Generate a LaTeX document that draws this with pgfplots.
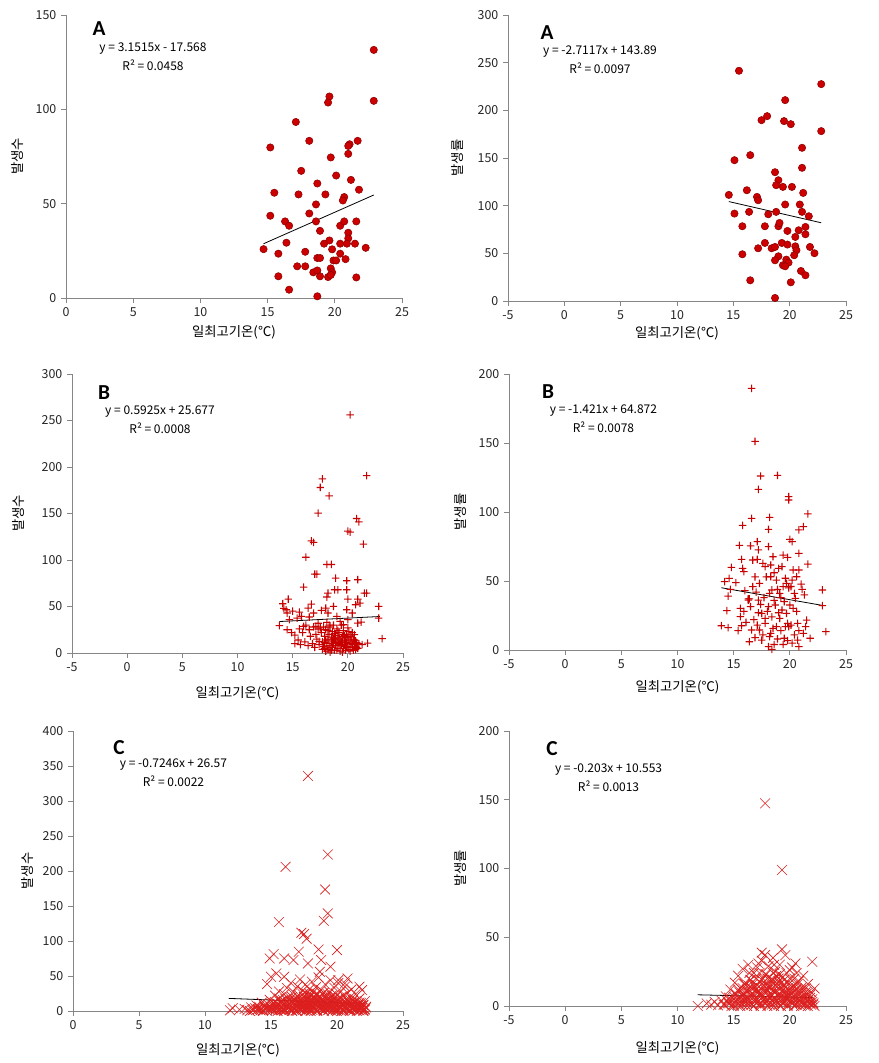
\documentclass[border=0pt]{standalone}
\usepackage{fontspec}
\usepackage{pgfplots}
\pgfplotsset{compat=1.18}
\setmainfont{Noto Sans CJK KR}
\newfontfamily\carlito{Carlito}
\definecolor{axisgray}{RGB}{134,134,134}
\definecolor{dotred}{RGB}{204,0,0}
\definecolor{dotedge}{RGB}{140,0,0}
\definecolor{plusred}{RGB}{200,0,0}
\definecolor{xred}{RGB}{220,30,30}
\pgfdeclareplotmark{fplus}{%
  \pgfpathrectangle{\pgfqpoint{-\pgfplotmarksize}{-0.4pt}}{\pgfqpoint{2\pgfplotmarksize}{0.8pt}}%
  \pgfpathrectangle{\pgfqpoint{-0.4pt}{-\pgfplotmarksize}}{\pgfqpoint{0.8pt}{2\pgfplotmarksize}}%
  \pgfusepathqfill}
\pgfplotsset{
  base/.style={anchor=south west, scale only axis, enlargelimits=false, clip=false,
    axis lines=left, axis line style={-, draw=axisgray, line width=0.6pt},
    tick align=outside, major tick length=3.75pt,
    tick style={draw=axisgray, line width=0.6pt},
    ticklabel style={font=\fontsize{9.3}{10}\selectfont, text=black!85},
    /pgf/number format/assume math mode=true,
    label style={font=\fontsize{8.6}{10}\selectfont, text=black!90},
    xlabel={일최고기온(℃)},
    every axis y label/.style={rotate=90, anchor=center},
    every axis x label/.style={anchor=center}},
  circ/.style={only marks, color=dotred, mark=*, mark size=2.75pt, mark options={fill=dotred, draw=dotedge, line width=0.4pt}},
  plusm/.style={only marks, color=plusred, mark=fplus, mark size=2.8pt, mark options={fill=plusred}},
  xm/.style={only marks, color=xred, mark=x, mark size=5.2pt, mark options={draw=xred, line width=0.45pt}},
  trend/.style={no marks, black, line width=0.6pt},
}
\newcommand{\eqfont}{\fontsize{9}{10}\selectfont}
\newcommand{\letfont}{\carlito\bfseries\fontsize{16}{18}\selectfont}
\begin{document}
\begin{tikzpicture}
\path[use as bounding box] (0,0) rectangle (658.5pt,-797.25pt);

% ---------- Panel 1 ----------
\begin{axis}[base, at={(49.5pt,-223.5pt)}, width=252pt, height=212.25pt,
  xmin=0, xmax=25, ymin=0, ymax=150, xtick={0,5,10,15,20,25}, ytick={0,50,100,150},
  ylabel={발생수},
  ylabel style={at={(axis description cs:-0.143,0.5)}},
  xlabel style={at={(axis description cs:0.5,-0.120)}}]
\addplot[circ] coordinates {
(22.9,131.5)(19.6,106.8)(19.5,103.6)(22.9,104.5)(17.1,93.3)(15.2,79.8)(18.1,83.3)(21.7,83.3)
(21.1,81.5)(21.0,80.6)(21.0,76.4)(19.7,74.5)(17.5,67.4)(20.1,64.9)(18.7,60.7)(21.2,62.6)
(15.5,55.8)(17.3,54.9)(19.3,54.9)(21.8,57.4)(20.7,53.5)(20.6,51.7)(18.6,49.6)(15.2,43.6)
(18.1,44.8)(16.3,40.6)(16.6,38.3)(18.6,40.6)(20.4,38.3)(20.7,40.6)(21.6,40.6)(18.9,35.6)
(21.0,34.6)(21.0,31.6)(19.6,30.5)(19.2,28.8)(16.4,29.3)(20.4,28.8)(20.9,28.8)(21.5,28.8)
(14.7,25.9)(19.8,25.8)(22.3,26.6)(17.8,24.5)(15.8,23.5)(20.4,23.5)(18.7,21.2)(18.9,21.2)
(19.9,19.9)(20.1,19.9)(20.8,20.6)(17.2,16.8)(17.8,16.8)(18.4,13.6)(18.7,14.6)(19.7,15.7)
(19.8,13.6)(18.9,11.5)(19.5,11.1)(19.7,12.2)(15.8,11.5)(21.6,10.9)(16.6,4.4)(18.7,0.9)
};
\addplot[trend] coordinates {(14.7,28.76)(22.9,54.6)};
\end{axis}

% ---------- Panel 2 ----------
\begin{axis}[base, at={(381pt,-225.75pt)}, width=253.5pt, height=214.5pt,
  xmin=-5, xmax=25, ymin=0, ymax=300, xtick={-5,0,5,10,15,20,25}, ytick={0,50,100,150,200,250,300},
  ylabel={발생률},
  ylabel style={at={(axis description cs:-0.148,0.5)}},
  xlabel style={at={(axis description cs:0.5,-0.112)}}]
\addplot[circ] coordinates {
(15.5,241.5)(22.8,227.5)(19.6,210.7)(17.5,189.7)(18.0,193.9)(19.5,188.7)(20.1,185.5)(22.8,178.2)
(21.1,160.7)(16.5,153.0)(15.1,147.7)(21.1,139.7)(18.7,135.1)(19.0,126.7)(18.8,121.5)(19.4,119.7)
(20.2,119.7)(16.2,116.2)(21.2,113.4)(14.6,111.3)(17.1,109.2)(17.2,105.7)(19.6,101.2)(20.9,101.2)
(21.1,93.5)(21.7,88.9)(15.1,91.7)(16.4,93.5)(18.1,91.0)(18.8,93.5)(15.8,78.4)(17.8,78.4)
(19.0,78.4)(19.1,81.9)(19.8,73.5)(20.8,74.2)(21.4,77.7)(21.4,70.0)(20.5,67.2)(20.5,57.4)
(17.8,60.9)(19.3,60.9)(19.8,59.2)(20.6,53.2)(21.8,56.7)(17.2,55.3)(18.4,55.3)(18.7,56.7)
(22.2,50.1)(15.8,49.0)(20.4,48.0)(19.0,46.9)(19.7,43.4)(18.7,42.7)(19.9,40.3)(19.4,37.5)
(19.6,36.4)(21.0,31.5)(21.4,27.0)(16.5,21.7)(20.1,19.6)(18.7,3.2)
};
\addplot[trend] coordinates {(14.6,104.3)(22.8,82.06)};
\end{axis}

% ---------- Panel 3 ----------
\begin{axis}[base, at={(54pt,-489.75pt)}, width=248.25pt, height=209.25pt,
  xmin=-5, xmax=25, ymin=0, ymax=300, xtick={-5,0,5,10,15,20,25}, ytick={0,50,100,150,200,250,300},
  ylabel={발생수},
  ylabel style={at={(axis description cs:-0.163,0.5)}},
  xlabel style={at={(axis description cs:0.5,-0.143)}}]
\addplot[plusm] coordinates {
(20.2,256)(21.7,190.8)(17.7,187.3)(17.5,178)(18.3,169)(17.3,150.4)(20.8,144.6)(21.0,141.1)
(20.0,131)(20.2,130)(21.4,117)(16.7,120.6)(16.9,118.9)(16.2,103)(17.0,84.9)(17.2,84.9)
(18.1,95.2)(18.5,95.2)(18.9,80.6)(19.9,77.7)(20.9,78.8)(16.0,70.9)(18.2,64.4)(18.8,68)
(19.1,68)(19.9,68)(21.5,64.4)(21.7,64.4)(20.0,58)(20.9,58)(18.1,60.2)(22.8,50.1)
(22.8,37.6)(23.1,15.4)(14.1,53)(14.6,58)(14.4,46.5)(14.5,43)(13.8,29.4)(14.5,25)
(14.7,35.8)(15.2,19.3)(15.4,37.6)(15.6,44)(15.8,39.4)(15.7,9)(16.0,28.6)(16.4,48.3)
(16.7,52.6)(16.5,38.7)(16.9,43)(17.1,28.6)(17.3,25.8)(17.4,12.5)(17.6,45.8)(18.0,48.3)
(18.2,43)(18.7,50.1)(19.0,39.4)(19.3,34)(19.6,30.4)(19.9,46.5)(20.0,35.8)(20.4,43)
(20.6,19.7)(20.9,32.2)(21.1,53.7)(20.7,51.9)(21.2,33.3)(21.8,10.7)(21.3,9)(20.7,7.2)(20.7,3.6)
(17.6,22)(17.7,12)(17.8,28)(17.9,5)(17.9,18)(18.0,2)(18.0,25)(18.1,10)(18.1,33)(18.2,15)
(18.2,4)(18.3,20)(18.3,8)(18.4,28)(18.4,1)(18.5,12)(18.5,17)(18.6,6)(18.6,23)(18.7,10)
(18.7,30)(18.8,3)(18.8,15)(18.9,19)(18.9,8)(19.0,12)(19.0,26)(19.1,5)(19.1,17)(19.2,10)
(19.2,22)(19.3,2)(19.3,14)(19.4,8)(19.4,30)(19.5,11)(19.5,18)(19.6,5)(19.6,24)(19.7,13)
(19.7,9)(19.8,16)(19.8,3)(19.9,20)(19.9,11)(20.0,7)(20.0,27)(20.1,14)(20.1,4)(20.2,18)
(20.2,10)(20.3,12)(20.4,6)(20.4,22)(20.5,15)(20.6,9)(20.7,13)(20.8,11)(20.9,5)(21.0,10)
(15.5,14)(15.6,26)(15.9,22)(16.1,12)(16.2,30)(16.4,8)(16.5,25)(16.6,18)(16.8,10)(16.9,28)
(17.0,6)(17.1,20)(17.2,15)(17.3,32)(17.4,9)(17.5,27)(15.2,10)(14.9,22)(15.0,45)(14.2,48)
(17.8,7)(18.0,14)(18.2,24)(18.4,6)(18.6,14)(18.8,21)(19.0,3)(19.2,16)(19.4,12)(19.6,20)
(19.8,7)(20.0,17)(20.2,2)(20.4,9)(20.6,14)(20.8,6)(18.5,3)(19.5,1)(18.9,11)(19.3,9)
(19.7,19)(20.1,23)(18.3,30)(17.9,11)(18.7,16)(19.1,24)(19.9,6)(20.3,17)(17.7,4)(20.5,3)
};
\addplot[trend] coordinates {(13.8,33.85)(22.9,39.25)};
\end{axis}

% ---------- Panel 4 ----------
\begin{axis}[base, at={(381.75pt,-487.5pt)}, width=252.75pt, height=207pt,
  xmin=-5, xmax=25, ymin=0, ymax=200, xtick={-5,0,5,10,15,20,25}, ytick={0,50,100,150,200},
  ylabel={발생률},
  ylabel style={at={(axis description cs:-0.145,0.5)}},
  xlabel style={at={(axis description cs:0.5,-0.134)}}]
\addplot[plusm] coordinates {
(16.6,189.6)(16.9,151.2)(17.4,126.1)(18.9,126.6)(17.2,116.4)(19.9,111.1)(19.9,108.7)(21.6,98.6)
(16.6,95.4)(18.2,96.1)(15.8,90.3)(18.1,87.4)(20.8,87)(21.2,89.4)(20.0,80.2)(20.2,78.5)
(17.1,78.5)(15.5,75.8)(16.5,75.4)(17.2,72.5)(18.1,74.9)(20.8,70)(19.4,68.8)(19.8,67.1)
(15.7,65.7)(17.1,65.7)(14.8,59.9)(15.8,59.2)(15.9,56.8)(17.8,60.4)(18.3,61.6)(19.0,59.2)
(19.3,60.4)(21.6,62.3)(14.2,49.5)(14.6,51.9)(15.2,48.8)(14.5,39.1)(14.7,44)(14.4,28.5)
(13.9,17.6)(14.5,16.2)(15.4,14)(15.7,17.6)(15.6,24.2)(15.6,30.2)(16.3,36.2)(16.5,31.4)
(16.7,45.9)(16.6,14.5)(16.4,6)(17.3,48.3)(17.2,36.2)(17.5,26.6)(17.8,22.9)(18.1,31.4)
(18.2,41.1)(18.4,43.5)(18.3,53.1)(18.8,50.7)(19.1,41.1)(19.4,45.9)(19.7,48.3)(20.2,50.7)
(20.6,53.1)(21.0,47.8)(20.8,58)(21.3,39.9)(22.9,43.5)(22.9,32.1)(23.2,13.3)(21.5,21.7)
(21.4,16.9)(21.8,8.5)(20.7,19.3)(20.8,14)(20.7,7.2)(20.8,2.4)(19.8,19.3)(19.9,16.9)
(19.5,8.5)(19.8,6.8)(20.3,30.2)(19.7,26.6)(19.1,22.9)(18.8,16.9)(18.5,15.7)(18.2,9.7)
(18.4,0.5)(18.1,2.4)(17.5,7.2)(17.3,14.5)(17.8,19.3)(18.7,32.6)(19.3,29)(20.0,32.6)
(20.5,37.4)(16.7,65.2)(18.5,67.6)(17.6,62.8)
(16.3,37)(16.4,37)(17.0,42)(17.4,33)(17.7,38)(18.0,28)(18.6,36)(18.9,44)(19.2,38)(19.5,35)
(19.9,45)(20.1,46)(20.4,41)(20.6,28)(21.1,44)(17.9,53)(18.6,56)(19.6,52)(20.3,58)(16.9,53)
(16.0,43)(15.9,28)(16.8,22)(17.1,18)(17.6,11)(18.3,12)(18.9,8)(19.2,14)(19.6,17)(20.1,18)
(20.4,11)(21.2,12)(16.1,20)(16.9,9)(18.6,4)(19.4,4)(20.2,5)(19.0,27)(18.4,24)(17.2,27)
};
\addplot[trend] coordinates {(13.9,45.12)(22.9,32.33)};
\end{axis}

% ---------- Panel 5 ----------
\begin{axis}[base, at={(54.75pt,-758.25pt)}, width=247.5pt, height=210pt,
  xmin=0, xmax=25, ymin=0, ymax=400, xtick={0,5,10,15,20,25}, ytick={0,50,100,150,200,250,300,350,400},
  ylabel={발생수},
  ylabel style={at={(axis description cs:-0.139,0.5)}},
  xlabel style={at={(axis description cs:0.5,-0.139)}}]
\addplot[xm] coordinates {
(17.8,335.8)(19.3,223.5)(16.1,206)(19.1,173.6)(19.3,139.4)(15.6,127)(19.0,128.9)(17.3,111.8)
(17.5,109.9)(17.7,103.2)(20.0,87)(15.2,81.3)(14.9,75.1)(16.0,75.1)(16.7,72.8)(17.1,84.7)
(18.6,88)(18.8,72.8)(18.7,56.1)(19.5,63.3)(17.8,68)(15.4,53.7)(15.0,49)(14.7,38.5)
(16.0,49)(20.8,46.6)(21.7,34.7)(20.1,44.2)(20.6,39.5)(11.9,1)(12.1,4)
(12.6,2)(13.0,3)(13.2,1)(13.5,5)(13.7,2)(13.9,8)(14.0,3)(14.2,1)(14.3,12)(14.5,6)(14.6,2)
(14.8,9)(14.9,16)(15.0,4)
(15.1,1)(15.2,7)(15.3,13)(15.3,22)(15.4,3)(15.5,10)(15.6,18)(15.6,28)(15.7,5)(15.8,1)
(15.8,14)(15.9,9)(16.0,24)(16.0,3)(16.1,17)(16.2,6)(16.2,33)(16.3,11)(16.4,2)(16.4,20)
(16.5,8)(16.5,40)(16.6,14)(16.7,4)(16.7,27)(16.8,10)(16.9,1)(16.9,18)(17.0,6)(17.0,35)
(17.1,12)(17.1,23)(17.2,3)(17.2,45)(17.3,9)(17.3,16)(17.4,29)(17.4,1)(17.5,7)(17.5,20)
(17.6,13)(17.6,38)(17.7,4)(17.7,25)(17.8,10)(17.8,17)(17.9,2)(17.9,31)(18.0,8)(18.0,22)
(18.1,14)(18.1,42)(18.2,5)(18.2,27)(18.3,11)(18.3,19)(18.4,1)(18.4,34)(18.5,7)(18.5,24)
(18.6,15)(18.6,48)(18.7,3)(18.7,21)(18.8,10)(18.8,30)(18.9,6)(18.9,17)(19.0,1)(19.0,26)
(19.1,12)(19.1,38)(19.2,4)(19.2,20)(19.3,9)(19.3,15)(19.4,2)(19.4,28)(19.5,7)(19.5,44)
(19.6,13)(19.6,22)(19.7,5)(19.7,18)(19.8,10)(19.8,33)(19.9,1)(19.9,25)(20.0,8)(20.0,14)
(20.1,3)(20.1,40)(20.2,11)(20.2,19)(20.3,6)(20.3,28)(20.4,1)(20.4,15)(20.5,9)(20.5,22)
(20.6,4)(20.6,35)(20.7,12)(20.7,17)(20.8,2)(20.8,26)(20.9,7)(20.9,14)(21.0,1)(21.0,20)
(21.1,10)(21.1,31)(21.2,5)(21.2,16)(21.3,2)(21.3,12)(21.4,8)(21.4,24)(21.5,3)(21.5,14)
(21.6,1)(21.6,9)(21.7,6)(21.7,18)(21.8,2)(21.8,11)(21.9,4)(21.9,30)(22.0,1)(22.0,8)
(22.1,3)(22.1,14)(22.2,5)
(15.5,0)(16.0,0)(16.6,0)(17.0,0)(17.6,0)(18.0,0)(18.5,0)(19.0,0)(19.6,0)(20.0,0)(20.5,0)
(21.0,0)(21.5,0)(22.0,0)(16.3,4)(17.3,5)(18.3,4)(19.3,5)(20.3,4)(21.3,5)(14.4,0)(13.4,0)
(18.0,12)(18.4,16)(18.8,6)(19.2,9)(17.6,8)(17.2,11)(16.8,14)(16.4,6)
(13.6,1)(14.0,2)(14.4,1)(14.9,2)(15.3,1)(15.7,2)(16.1,1)(16.5,2)(16.9,1)(17.3,2)(17.7,1)
(18.1,2)(18.5,1)(18.9,2)(19.3,1)(19.7,2)(20.1,1)(20.5,2)(20.9,1)(21.3,2)(21.7,1)(22.1,2)
(13.8,4)(14.2,3)(14.7,4)(15.1,3)(15.5,4)(15.9,3)(16.3,4)(16.7,3)(17.1,4)(17.5,3)(17.9,4)
(18.3,3)(18.7,4)(19.1,3)(19.5,4)(19.9,3)(20.3,4)(20.7,3)(21.1,4)(21.5,3)(21.9,4)
(14.1,6)(14.5,7)(15.0,6)(15.4,7)(15.8,6)(16.2,7)(16.6,6)(17.0,7)(17.4,6)(17.8,7)(18.2,6)
(18.6,7)(19.0,6)(19.4,7)(19.8,6)(20.2,7)(20.6,6)(21.0,7)(21.4,6)(21.8,7)(22.2,6)
(14.6,9)(15.1,10)(15.6,9)(16.0,10)(16.4,9)(16.8,10)(17.2,9)(17.6,10)(18.0,9)(18.4,10)
(18.8,9)(19.2,10)(19.6,9)(20.0,10)(20.4,9)(20.8,10)(21.2,9)(21.6,10)(22.0,9)
(15.2,12)(15.7,13)(16.1,12)(16.5,13)(16.9,12)(17.3,13)(17.7,12)(18.1,13)(18.5,12)(18.9,13)
(19.3,12)(19.7,13)(20.1,12)(20.5,13)(20.9,12)(21.3,13)(21.7,12)
(15.9,16)(16.4,15)(16.8,16)(17.2,15)(17.6,16)(18.0,15)(18.4,16)(18.8,15)(19.2,16)(19.6,15)
(20.0,16)(20.4,15)(20.8,16)(21.2,15)
(16.6,20)(17.1,19)(17.5,20)(17.9,19)(18.3,20)(18.7,19)(19.1,20)(19.5,19)(19.9,20)(20.3,19)
(17.4,24)(17.9,25)(18.4,24)(18.9,25)(19.3,24)
};
\addplot[trend] coordinates {(11.8,18.02)(22.1,10.56)};
\end{axis}

% ---------- Panel 6 ----------
\begin{axis}[base, at={(381.75pt,-754.5pt)}, width=252.75pt, height=206.25pt,
  xmin=-5, xmax=25, ymin=0, ymax=200, xtick={-5,0,5,10,15,20,25}, ytick={0,50,100,150,200},
  ylabel={발생률},
  ylabel style={at={(axis description cs:-0.145,0.5)}},
  xlabel style={at={(axis description cs:0.5,-0.153)}}]
\addplot[xm] coordinates {
(17.8,147.4)(19.3,98.9)(22.0,32.2)(20.5,31)(19.3,41.2)(17.5,38.8)(17.8,37.1)(22.2,12.8)
(11.8,0)(12.6,1.9)(13.0,1)(13.3,3)(13.6,0.5)(13.9,4)(14.1,1)(14.3,7)(14.5,2)(14.7,12)
(14.8,0)(15.0,5)(15.1,17)(15.2,9)(15.3,1)(15.4,22)(15.5,6)(15.6,13)(15.7,2)(15.8,27)
(15.9,8)(16.0,16)(16.1,3)(16.2,11)(16.3,30)(16.4,5)(16.5,19)(16.6,1)(16.7,9)(16.8,24)
(16.9,14)(17.0,4)(17.1,28)(17.2,10)(17.3,18)(17.4,2)(17.5,33)(17.6,7)(17.7,15)(17.8,23)
(17.9,3)(18.0,12)(18.1,29)(18.2,6)(18.3,19)(18.4,1)(18.5,35)(18.6,10)(18.7,25)(18.8,4)
(18.9,16)(19.0,8)(19.1,30)(19.2,13)(19.3,2)(19.4,21)(19.5,9)(19.6,37)(19.7,5)(19.8,17)
(19.9,11)(20.0,26)(20.1,3)(20.2,14)(20.3,7)(20.4,20)(20.5,1)(20.6,12)(20.7,5)(20.8,18)
(20.9,9)(21.0,3)(21.1,14)(21.2,6)(21.3,1)(21.4,10)(21.5,4)(21.6,16)(21.7,2)(21.8,8)
(21.9,1)(22.0,5)(22.1,2)(22.2,0)
(15.0,0)(15.6,0)(16.2,0)(16.8,0)(17.4,0)(18.0,0)(18.6,0)(19.2,0)(19.8,0)(20.4,0)(21.0,0)
(21.6,0)(16.0,6)(17.0,12)(17.6,20)(18.2,14)(18.8,22)(19.4,15)(20.0,8)(20.6,24)(17.3,9)
(18.4,8)(19.0,18)(19.6,6)(16.6,13)(15.9,4)(21.2,22)(20.2,28)(18.6,30)(17.2,31)(16.4,24)
(14.2,1)(14.6,2)(15.0,1)(15.4,2)(15.8,1)(16.2,2)(16.6,1)(17.0,2)(17.4,1)(17.8,2)(18.2,1)
(18.6,2)(19.0,1)(19.4,2)(19.8,1)(20.2,2)(20.6,1)(21.0,2)(21.4,1)(21.8,2)(22.1,1)
(14.4,4)(14.8,3)(15.2,4)(15.6,3)(16.0,4)(16.4,3)(16.8,4)(17.2,3)(17.6,4)(18.0,3)(18.4,4)
(18.8,3)(19.2,4)(19.6,3)(20.0,4)(20.4,3)(20.8,4)(21.2,3)(21.6,4)(22.0,3)
(14.6,6)(15.0,7)(15.4,6)(15.8,7)(16.2,6)(16.6,7)(17.0,6)(17.4,7)(17.8,6)(18.2,7)(18.6,6)
(19.0,7)(19.4,6)(19.8,7)(20.2,6)(20.6,7)(21.0,6)(21.4,7)(21.8,6)
(15.1,9)(15.5,10)(15.9,9)(16.3,10)(16.7,9)(17.1,10)(17.5,9)(17.9,10)(18.3,9)(18.7,10)
(19.1,9)(19.5,10)(19.9,9)(20.3,10)(20.7,9)(21.1,10)(21.5,9)(21.9,10)
(15.4,12)(15.8,13)(16.2,12)(16.6,13)(17.0,12)(17.4,13)(17.8,12)(18.2,13)(18.6,12)(19.0,13)
(19.4,12)(19.8,13)(20.2,12)(20.6,13)(21.0,12)(21.4,13)
(15.9,16)(16.3,15)(16.7,16)(17.1,15)(17.5,16)(17.9,15)(18.3,16)(18.7,15)(19.1,16)(19.5,15)
(19.9,16)(20.3,15)(20.7,16)
(16.5,19)(17.0,20)(17.5,19)(18.0,20)(18.5,19)(19.0,20)(19.5,19)(20.0,20)
(17.3,24)(17.9,23)(18.5,24)(19.1,23)(19.7,24)
};
\addplot[trend] coordinates {(11.8,8.16)(22.1,6.07)};
\end{axis}

% ---------- annotations ----------
\node[font=\letfont] at (74.25pt,-21.75pt) {A};
\node[font=\eqfont] at (114.75pt,-36.75pt) {y = 3.1515x - 17.568};
\node[font=\eqfont] at (114.75pt,-48.75pt) {R² = 0.0458};
\node[font=\letfont] at (410.25pt,-24.75pt) {A};
\node[font=\eqfont] at (450pt,-39pt) {y = -2.7117x + 143.89};
\node[font=\eqfont] at (450pt,-51pt) {R² = 0.0097};
\node[font=\letfont] at (78pt,-294.75pt) {B};
\node[font=\eqfont] at (120pt,-309pt) {y = 0.5925x + 25.677};
\node[font=\eqfont] at (120pt,-321pt) {R² = 0.0008};
\node[font=\letfont] at (411pt,-294pt) {B};
\node[font=\eqfont] at (452.6pt,-308.25pt) {y = -1.421x + 64.872};
\node[font=\eqfont] at (452.6pt,-320.25pt) {R² = 0.0078};
\node[font=\letfont] at (89.25pt,-561pt) {C};
\node[font=\eqfont] at (130.1pt,-573.75pt) {y = -0.7246x + 26.57};
\node[font=\eqfont] at (130.1pt,-585.75pt) {R² = 0.0022};
\node[font=\letfont] at (414pt,-561.75pt) {C};
\node[font=\eqfont] at (456.4pt,-577.5pt) {y = -0.203x + 10.553};
\node[font=\eqfont] at (456.4pt,-589.5pt) {R² = 0.0013};
\end{tikzpicture}
\end{document}
